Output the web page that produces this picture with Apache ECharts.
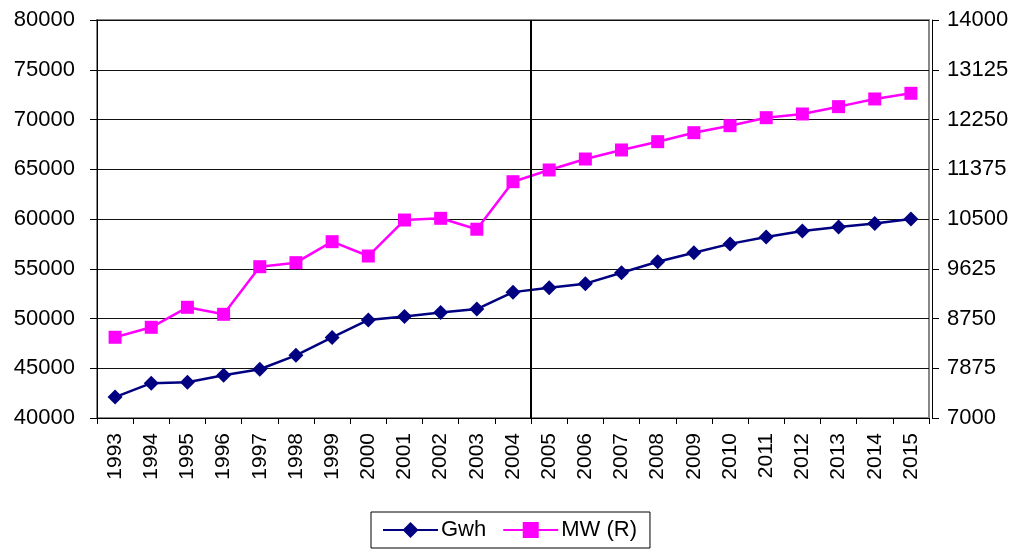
<!DOCTYPE html>
<html><head><meta charset="utf-8">
<script src="https://cdn.jsdelivr.net/npm/echarts@6/dist/echarts.min.js"></script>
<style>html,body{margin:0;padding:0;background:#fff}#c{width:1020px;height:554px}</style>
</head><body><div id="c"></div>
<script>
const years = ['1993','1994','1995','1996','1997','1998','1999','2000','2001','2002','2003','2004','2005','2006','2007','2008','2009','2010','2011','2012','2013','2014','2015'];
const gwh = [42100,43500,43600,44300,44900,46300,48100,49850,50200,50600,50950,52650,53100,53500,54600,55700,56600,57500,58200,58800,59200,59550,60000];
const mw = [8420,8595,8947,8824,9661,9732,10101,9849,10482,10512,10320,11156,11362,11555,11714,11860,12018,12141,12282,12347,12476,12611,12711];
const leftTicks = {min:40000, max:80000, interval:5000};
const rightTicks = {min:7000, max:14000, interval:875};
const dividerIndex = 12;

const font = 'Liberation Sans, Arial, sans-serif';
const plain = v => String(v);
const chart = echarts.init(document.getElementById('c'));
chart.setOption({
  animation:false,
  grid:{left:97, right:91, top:20, bottom:136, show:true, borderColor:'#888', borderWidth:2, backgroundColor:'#fff'},
  legend:{
    top:512, left:371, itemWidth:55, itemHeight:20, itemGap:16,
    borderColor:'#000', borderWidth:1, padding:[7,13,7,11],
    textStyle:{fontFamily:font, fontSize:22, color:'#000', padding:[0,0,0,-2]},
    data:['Gwh','MW (R)']
  },
  xAxis:[{
    type:'category', data:years, boundaryGap:true,
    axisLine:{lineStyle:{color:'#000', width:1}},
    axisTick:{show:true, length:6, lineStyle:{color:'#000'}},
    axisLabel:{rotate:90, fontFamily:font, fontSize:21, color:'#000', margin:15, interval:0},
    splitLine:{show:false}
  },{
    type:'value', min:0, max:years.length, show:false
  }],
  yAxis:[
    {type:'value', min:leftTicks.min, max:leftTicks.max, interval:leftTicks.interval, offset:3,
     axisLine:{show:true, lineStyle:{color:'#000'}}, axisTick:{show:true, length:7, lineStyle:{color:'#000'}},
     axisLabel:{fontFamily:font, fontSize:22, color:'#000', margin:19, formatter:plain},
     splitLine:{lineStyle:{color:'#111', width:1}}},
    {type:'value', min:rightTicks.min, max:rightTicks.max, interval:rightTicks.interval, position:'right', offset:3,
     axisLine:{show:true, lineStyle:{color:'#000'}}, axisTick:{show:true, length:7, lineStyle:{color:'#000'}},
     axisLabel:{fontFamily:font, fontSize:22, color:'#000', margin:15, formatter:plain},
     splitLine:{show:false}}
  ],
  series:[
    {name:'divider', type:'line', xAxisIndex:1, yAxisIndex:0, data:[], silent:true,
     markLine:{symbol:'none', silent:true, label:{show:false}, animation:false,
       lineStyle:{color:'#000', width:2, type:'solid'}, data:[{xAxis:dividerIndex}]}},
    {name:'Gwh', type:'line', yAxisIndex:0, data:gwh, symbol:'diamond', symbolSize:15,
     itemStyle:{color:'#000080'}, lineStyle:{color:'#000080', width:2.5}},
    {name:'MW (R)', type:'line', yAxisIndex:1, data:mw, symbol:'rect', symbolSize:13,
     itemStyle:{color:'#FF00FF'}, lineStyle:{color:'#FF00FF', width:2.5}}
  ]
});
</script></body></html>
